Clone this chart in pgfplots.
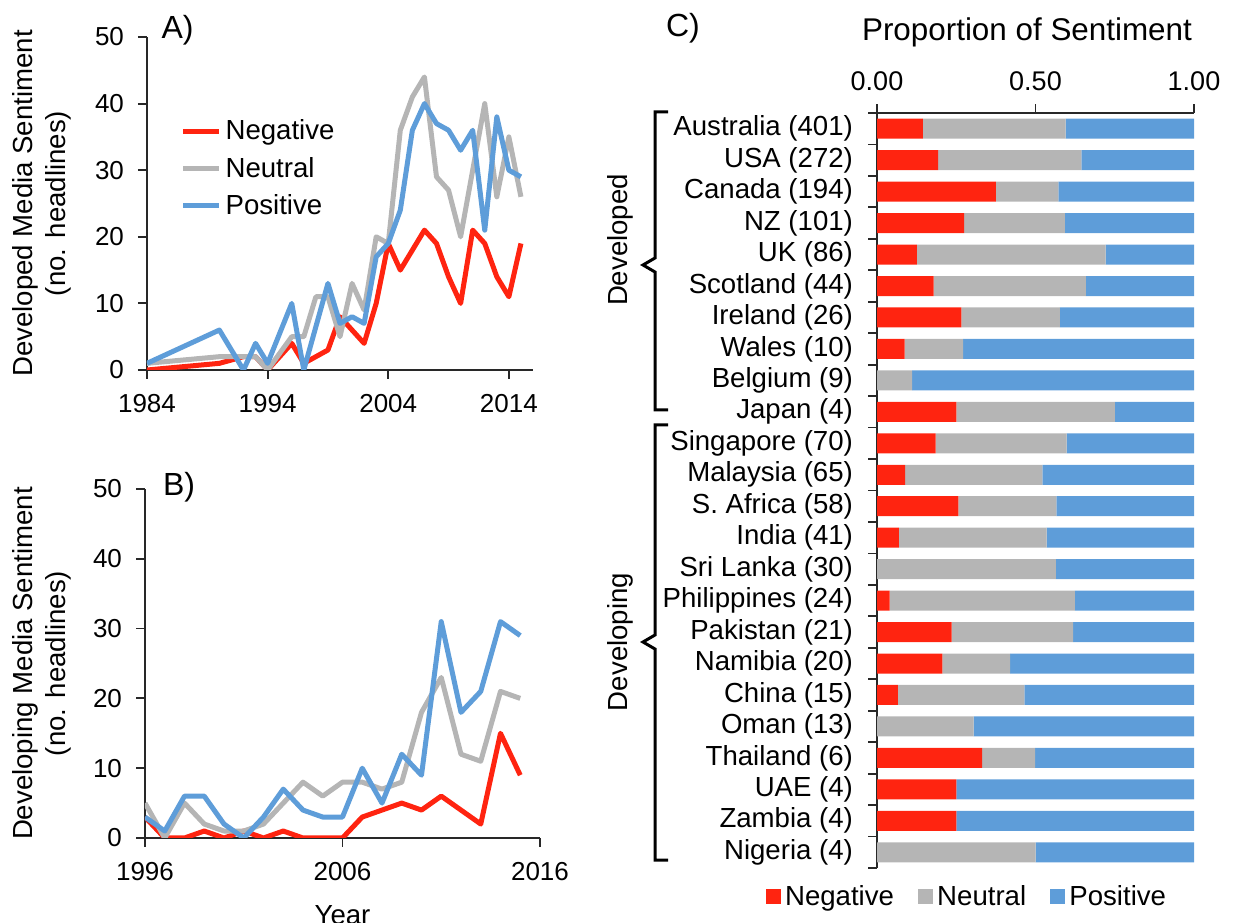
\documentclass[border=0pt]{standalone}
\usepackage{fontspec}
\setmainfont{Liberation Sans}
\usepackage{pgfplots}
\pgfplotsset{compat=1.18}

\definecolor{negred}{RGB}{255,36,16}
\definecolor{neugray}{RGB}{181,181,181}
\definecolor{posblue}{RGB}{94,157,217}
\definecolor{axgray}{RGB}{40,40,40}

\pgfplotsset{
  lineplot/.style={
    scale only axis,
    axis lines*=left,
    axis line style={axgray, line width=0.9pt, -},
    tick style={axgray, line width=0.9pt},
    tick align=outside,
    major tick length=4.5pt,
    ymin=0, ymax=50, ytick={0,10,...,50},
    /pgf/number format/assume math mode=true,
    /pgf/number format/1000 sep={},
    tick label style={font=\fontsize{13pt}{15.6pt}\selectfont},
    yticklabel style={xshift=-3.5pt},
    xticklabel style={yshift=-4pt},
    every axis plot/.append style={line width=2.5pt, line join=round, mark=none},
    ylabel style={align=center, anchor=center},
  },
}

\begin{document}
\begin{tikzpicture}[font=\fontsize{13.8pt}{16.5pt}\selectfont]
\useasboundingbox (0,0) rectangle (619pt,461pt);

% ---- A) developed, line chart
\begin{axis}[lineplot,
  at={(73.5pt,276pt)}, anchor=south west,
  width=193pt, height=166.5pt,
  xmin=1984, xmax=2016, xtick={1984,1994,2004,2014},
  ylabel={Developed Media Sentiment\\(no. headlines)},
  ylabel style={at={(axis description cs:-0.272,0.5)}},
  legend entries={Negative,Neutral,Positive},
  legend cell align=left,
  legend image code/.code={\draw[#1] (0pt,0pt) -- (18pt,0pt);},
  legend style={at={(axis description cs:0.086,0.765)}, anchor=north west,
    draw=none, fill=none, row sep=3.2pt, inner sep=0pt},
]
\addplot[negred] coordinates {
  (1984,0) (1990,1) (1992,2) (1993,2) (1994,0) (1996,4) (1997,1) (1998,2)
  (1999,3) (2000,8) (2001,6) (2002,4) (2003,10) (2004,19) (2005,15) (2006,18)
  (2007,21) (2008,19) (2009,14) (2010,10) (2011,21) (2012,19) (2013,14)
  (2014,11) (2015,19)};
\addplot[neugray] coordinates {
  (1984,1) (1990,2) (1992,2) (1993,2) (1994,0) (1996,5) (1997,5) (1998,11)
  (1999,11) (2000,5) (2001,13) (2002,9) (2003,20) (2004,19) (2005,36) (2006,41)
  (2007,44) (2008,29) (2009,27) (2010,20) (2011,30) (2012,40) (2013,26)
  (2014,35) (2015,26)};
\addplot[posblue] coordinates {
  (1984,1) (1990,6) (1992,0) (1993,4) (1994,1) (1996,10) (1997,0) (1999,13)
  (2000,7) (2001,8) (2002,7) (2003,17) (2004,19) (2005,24) (2006,36) (2007,40)
  (2008,37) (2009,36) (2010,33) (2011,36) (2012,21) (2013,38) (2014,30)
  (2015,29)};
\end{axis}

% ---- B) developing, line chart
\begin{axis}[lineplot,
  at={(72.5pt,42pt)}, anchor=south west,
  width=197.5pt, height=174.5pt,
  xmin=1996, xmax=2016, xtick={1996,2006,2016},
  ylabel={Developing Media Sentiment\\(no. headlines)},
  ylabel style={at={(axis description cs:-0.262,0.5)}},
  xlabel={Year},
  xlabel style={at={(axis description cs:0.5,-0.222)}, anchor=center},
]
\addplot[negred] coordinates {
  (1996,3) (1997,0) (1998,0) (1999,1) (2000,0) (2001,1) (2002,0) (2003,1)
  (2004,0) (2005,0) (2006,0) (2007,3) (2008,4) (2009,5) (2010,4) (2011,6)
  (2012,4) (2013,2) (2014,15) (2015,9)};
\addplot[neugray] coordinates {
  (1996,5) (1997,0) (1998,5) (1999,2) (2000,1) (2001,1) (2002,2) (2003,5)
  (2004,8) (2005,6) (2006,8) (2007,8) (2008,7) (2009,8) (2010,18) (2011,23)
  (2012,12) (2013,11) (2014,21) (2015,20)};
\addplot[posblue] coordinates {
  (1996,3) (1997,1) (1998,6) (1999,6) (2000,2) (2001,0) (2002,3) (2003,7)
  (2004,4) (2005,3) (2006,3) (2007,10) (2008,5) (2009,12) (2010,9) (2011,31)
  (2012,18) (2013,21) (2014,31) (2015,29)};
\end{axis}

% ---- C) proportion of sentiment, stacked bars
\begin{axis}[
  scale only axis,
  at={(438.5pt,27pt)}, anchor=south west,
  width=158.5pt, height=377.5pt,
  xbar stacked, bar width=10pt,
  xmin=0, xmax=1, ymin=-0.5, ymax=23.5, y dir=reverse,
  axis x line*=top, axis y line*=left,
  axis line style={axgray, line width=0.9pt, -},
  tick style={axgray, line width=0.9pt},
  tick align=outside, major tick length=4.5pt, minor tick length=4.5pt,
  xtick={0,0.5,1},
  xticklabel style={yshift=3pt, font=\fontsize{13.5pt}{16pt}\selectfont,
    /pgf/number format/.cd, fixed, fixed zerofill, precision=2, assume math mode=true},
  ytick={0,...,23},
  major y tick style={draw=none},
  minor ytick={-0.5,0.5,...,23.5},
  yticklabel style={xshift=-4pt},
  yticklabels={Australia (401),USA (272),Canada (194),NZ (101),UK (86),Scotland (44),Ireland (26),Wales (10),Belgium (9),Japan (4),Singapore (70),Malaysia (65),S. Africa (58),India (41),Sri Lanka (30),Philippines (24),Pakistan (21),Namibia (20),China (15),Oman (13),Thailand (6),UAE (4),Zambia (4),Nigeria (4)},
  legend columns=3,
  legend image code/.code={\fill[#1] (0pt,-3.6pt) rectangle (7.6pt,3.6pt);},
  legend style={at={(axis description cs:0.287,-0.038)}, anchor=center,
    draw=none, fill=none, inner sep=0pt,
    /tikz/every even column/.append style={column sep=10pt}},
]
\addplot[fill=negred, draw=none] coordinates {
  (0.145,0) (0.193,1) (0.375,2) (0.275,3) (0.126,4) (0.179,5) (0.266,6) (0.087,7)
  (0,8) (0.25,9) (0.185,10) (0.089,11) (0.257,12) (0.069,13) (0,14) (0.04,15)
  (0.235,16) (0.206,17) (0.066,18) (0,19) (0.332,20) (0.25,21) (0.25,22) (0,23)};
\addplot[fill=neugray, draw=none] coordinates {
  (0.45,0) (0.452,1) (0.197,2) (0.318,3) (0.595,4) (0.48,5) (0.311,6) (0.185,7)
  (0.111,8) (0.5,9) (0.413,10) (0.433,11) (0.309,12) (0.466,13) (0.564,14) (0.584,15)
  (0.384,16) (0.214,17) (0.399,18) (0.305,19) (0.167,20) (0,21) (0,22) (0.5,23)};
\addplot[fill=posblue, draw=none] coordinates {
  (0.405,0) (0.355,1) (0.428,2) (0.407,3) (0.279,4) (0.341,5) (0.423,6) (0.728,7)
  (0.889,8) (0.25,9) (0.402,10) (0.478,11) (0.434,12) (0.465,13) (0.436,14) (0.376,15)
  (0.381,16) (0.58,17) (0.535,18) (0.695,19) (0.501,20) (0.75,21) (0.75,22) (0.5,23)};
\legend{Negative,Neutral,Positive}
\end{axis}

% panel letters and titles
\node[font=\fontsize{16pt}{19pt}\selectfont] at (88.75pt,446pt) {A)};
\node[font=\fontsize{16pt}{19pt}\selectfont] at (89.5pt,217.5pt) {B)};
\node[font=\fontsize{16pt}{19pt}\selectfont] at (341.5pt,447pt) {C)};
\node[font=\fontsize{15.7pt}{19pt}\selectfont] at (513.5pt,445pt) {Proportion of Sentiment};

% group brackets
\draw[line width=1.5pt, black]
  (334pt,405pt) -- (327.5pt,405pt) -- (327.5pt,332pt) -- (321.5pt,328.5pt)
  -- (327.5pt,325pt) -- (327.5pt,256pt) -- (334pt,256pt);
\draw[line width=1.5pt, black]
  (334pt,248.5pt) -- (327.5pt,248.5pt) -- (327.5pt,143.5pt) -- (321.5pt,140pt)
  -- (327.5pt,136.5pt) -- (327.5pt,31pt) -- (334pt,31pt);
\node[rotate=90] at (310pt,341pt) {Developed};
\node[rotate=90] at (310pt,140pt) {Developing};
\end{tikzpicture}
\end{document}
